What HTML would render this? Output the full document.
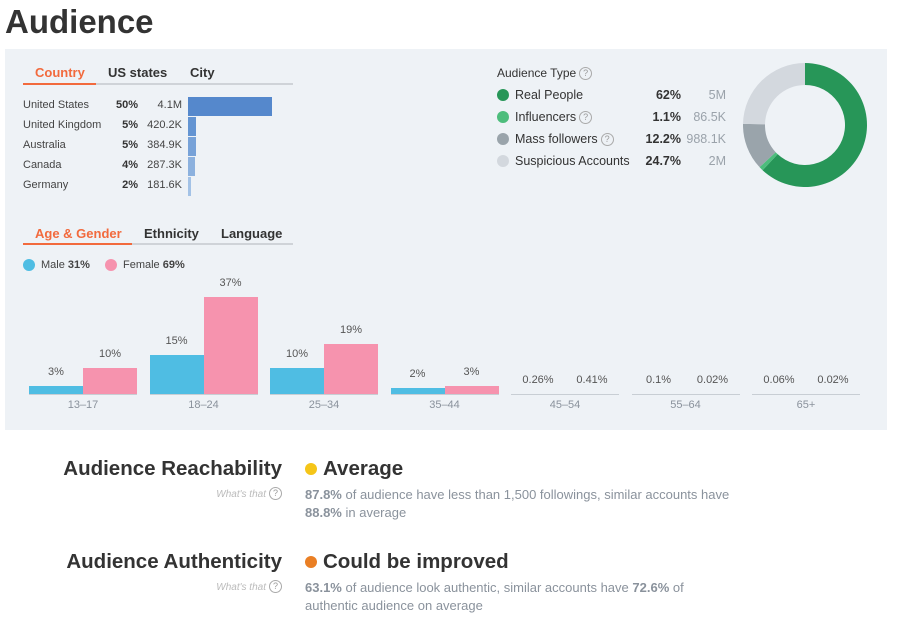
<!DOCTYPE html>
<html><head><meta charset="utf-8"><style>
body{margin:0;width:904px;height:632px;background:#fff;font-family:"Liberation Sans",sans-serif;position:relative;overflow:hidden;color:#333}
.a{position:absolute;white-space:nowrap}
.panel{position:absolute;left:5px;top:49px;width:882px;height:381px;background:#eef2f6}
.tab{font-size:13px;font-weight:bold;color:#333}
.sm{font-size:11px;color:#444}
.q{display:inline-block;width:11px;height:11px;border:1px solid #aaa;border-radius:50%;font-size:9px;color:#999;text-align:center;line-height:11px;vertical-align:1px;margin-left:3px}
.dot{position:absolute;width:12px;height:12px;border-radius:50%}
</style></head><body>
<div class="a" style="left:5px;top:3px;font-size:33px;font-weight:bold;color:#333">Audience</div>
<div class="panel"></div>

<div class="a" style="left:23px;top:83px;width:270px;height:2px;background:#cfd3d8"></div>
<div class="a" style="left:23px;top:83px;width:73px;height:2px;background:#f26a3d"></div>
<div class="a tab" style="left:35px;top:65px;color:#f26a3d">Country</div>
<div class="a tab" style="left:108px;top:65px">US states</div>
<div class="a tab" style="left:190px;top:65px">City</div>
<div id="countries"></div>

<div class="a" style="left:497px;top:66px;font-size:12px;color:#333">Audience Type<span class="q">?</span></div>
<div id="types"></div>
<svg class="a" style="left:740px;top:60px" width="130" height="130" id="donut"></svg>

<div class="a" style="left:23px;top:243px;width:270px;height:2px;background:#cfd3d8"></div>
<div class="a" style="left:23px;top:243px;width:109px;height:2px;background:#f26a3d"></div>
<div class="a tab" style="left:35px;top:226px;color:#f26a3d">Age &amp; Gender</div>
<div class="a tab" style="left:144px;top:226px">Ethnicity</div>
<div class="a tab" style="left:221px;top:226px">Language</div>
<div class="dot" style="left:23px;top:259px;background:#4fbde3"></div>
<div class="a sm" style="left:41px;top:259px">Male <b>31%</b></div>
<div class="dot" style="left:105px;top:259px;background:#f693ae"></div>
<div class="a sm" style="left:123px;top:259px">Female <b>69%</b></div>
<div id="age"></div>

<div class="a" style="right:622px;top:457px;font-size:20.5px;font-weight:bold;color:#333">Audience Reachability</div>
<div class="a" style="right:622px;top:487px;font-size:10px;color:#bbb;font-style:italic">What's that<span class="q" style="font-style:normal">?</span></div>
<div class="dot" style="left:305px;top:463px;background:#f5c518"></div>
<div class="a" style="left:323px;top:457px;font-size:20.5px;font-weight:bold;color:#333">Average</div>
<div class="a" style="left:305px;top:486px;font-size:13px;color:#8a929c;line-height:18px"><b>87.8%</b> of audience have less than 1,500 followings, similar accounts have<br><b>88.8%</b> in average</div>
<div class="a" style="right:622px;top:550px;font-size:20.5px;font-weight:bold;color:#333">Audience Authenticity</div>
<div class="a" style="right:622px;top:580px;font-size:10px;color:#bbb;font-style:italic">What's that<span class="q" style="font-style:normal">?</span></div>
<div class="dot" style="left:305px;top:556px;background:#ea7f24"></div>
<div class="a" style="left:323px;top:550px;font-size:20.5px;font-weight:bold;color:#333">Could be improved</div>
<div class="a" style="left:305px;top:579px;font-size:13px;color:#8a929c;line-height:18px"><b>63.1%</b> of audience look authentic, similar accounts have <b>72.6%</b> of<br>authentic audience on average</div>

<script>
const countries=["United States","United Kingdom","Australia","Canada","Germany"];
const countryPct=[50,5,5,4,2];
const countryCount=["4.1M","420.2K","384.9K","287.3K","181.6K"];
const countryColors=["#5588cc","#6394d2","#77a2d8","#8cb1de","#a3c2e6"];
const c=document.getElementById('countries');
countries.forEach((n,i)=>{
  const y=99+i*20;
  let d=document.createElement('div');d.className='a sm';d.style.cssText=`left:23px;top:${y}px`;d.textContent=n;
  
  c.appendChild(d);
  d=document.createElement('div');d.className='a sm';d.style.cssText=`right:${904-138}px;top:${y}px;font-weight:bold;color:#333`;d.textContent=countryPct[i]+'%';
  
  c.appendChild(d);
  d=document.createElement('div');d.className='a sm';d.style.cssText=`right:${904-182}px;top:${y}px`;d.textContent=countryCount[i];
  
  c.appendChild(d);
  d=document.createElement('div');d.className='a';d.style.cssText=`left:188px;top:${y-2}px;height:19px;width:${countryPct[i]*84/50}px;background:${countryColors[i]}`;
  
  c.appendChild(d);
});
const types=["Real People","Influencers","Mass followers","Suspicious Accounts"];
const typePct=[62,1.1,12.2,24.7];
const typeCount=["5M","86.5K","988.1K","2M"];
const typeColors=["#279658","#4dbd7c","#9aa4ab","#d3d8de"];
const t=document.getElementById('types');
types.forEach((n,i)=>{
  const y=88+i*22;
  let d=document.createElement('div');d.className='dot';d.style.cssText=`left:497px;top:${y+1}px;background:${typeColors[i]}`;
  
  t.appendChild(d);
  d=document.createElement('div');d.className='a';d.style.cssText=`left:515px;top:${y}px;font-size:12.5px;color:#333`;d.innerHTML=n+((i==1||i==2)?'<span class="q">?</span>':'');
  
  t.appendChild(d);
  d=document.createElement('div');d.className='a';d.style.cssText=`right:${904-681}px;top:${y}px;font-size:12.5px;font-weight:bold;color:#333`;d.textContent=typePct[i]+'%';
  
  t.appendChild(d);
  d=document.createElement('div');d.className='a';d.style.cssText=`right:${904-726}px;top:${y}px;font-size:12.5px;color:#9aa2aa`;d.textContent=typeCount[i];
  
  t.appendChild(d);
});
const svg=document.getElementById('donut');const cx=65,cy=65,R=62,r=40;
let a0=0;const tot=typePct.reduce((s,v)=>s+v,0);
typePct.forEach((v,i)=>{
  const a1=a0+v/tot*2*Math.PI;
  const p=(rad,a)=>[cx+rad*Math.sin(a),cy-rad*Math.cos(a)];
  const L=(a1-a0)>Math.PI?1:0;
  const [x0,y0]=p(R,a0),[x1,y1]=p(R,a1),[x2,y2]=p(r,a1),[x3,y3]=p(r,a0);
  const path=document.createElementNS('http://www.w3.org/2000/svg','path');
  path.setAttribute('d',`M${x0},${y0}A${R},${R} 0 ${L} 1 ${x1},${y1}L${x2},${y2}A${r},${r} 0 ${L} 0 ${x3},${y3}Z`);
  path.setAttribute('fill',typeColors[i]);
  
  
  svg.appendChild(path);a0=a1;
});
const ages=["13–17","18–24","25–34","35–44","45–54","55–64","65+"];
const male=[3,15,10,2,0.26,0.1,0.06];
const female=[10,37,19,3,0.41,0.02,0.02];
const maleLbl=["3%","15%","10%","2%","0.26%","0.1%","0.06%"];
const femaleLbl=["10%","37%","19%","3%","0.41%","0.02%","0.02%"];
const g=document.getElementById('age');const base=394,k=97/37,bw=54;
ages.forEach((n,i)=>{
  const x=29+i*120.5;
  let d=document.createElement('div');d.className='a';d.style.cssText=`left:${x}px;top:${base}px;width:${bw*2}px;height:1px;background:#c8ced4`;
  
  g.appendChild(d);
  d=document.createElement('div');d.className='a';d.style.cssText=`left:${x}px;top:${base+5}px;width:${bw*2}px;text-align:center;font-size:11px;color:#8a929c`;d.textContent=n;
  
  g.appendChild(d);
  [[male,maleLbl,'#4fbde3',0],[female,femaleLbl,'#f693ae',1]].forEach(([arr,lbl,col,j])=>{
    const h=arr[i]>=1?Math.max(arr[i]*k,6):0;
    let b=document.createElement('div');b.className='a';b.style.cssText=`left:${x+j*bw}px;top:${base-h}px;width:${bw}px;height:${h}px;background:${col}`;
    
    g.appendChild(b);
    b=document.createElement('div');b.className='a';b.style.cssText=`left:${x+j*bw}px;top:${base-h-(h?20:20)}px;width:${bw}px;text-align:center;font-size:11px;color:#555`;b.textContent=lbl[i];
    
    g.appendChild(b);
  });
});
</script>
</body></html>
